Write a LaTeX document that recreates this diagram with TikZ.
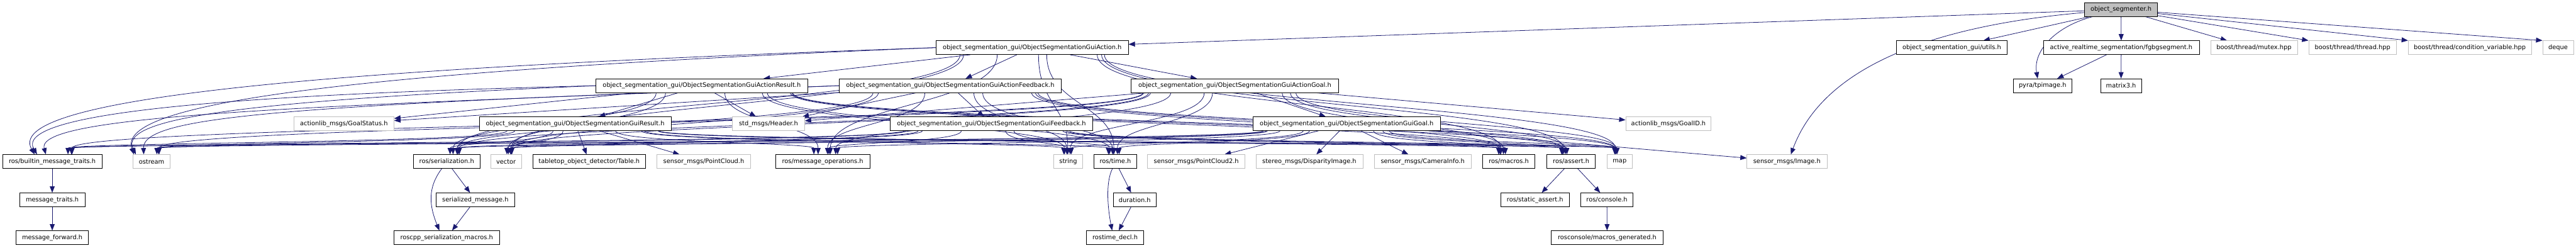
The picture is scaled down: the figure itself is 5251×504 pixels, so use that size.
\documentclass[tikz,border=0pt]{standalone}
\usepackage{fontspec}
\setmainfont{DejaVu Sans}
\usetikzlibrary{arrows.meta,calc}
\definecolor{edgecol}{RGB}{25,25,112}
\definecolor{extgray}{RGB}{191,191,191}
\pgfdeclarelayer{back}
\pgfdeclarelayer{edges}
\pgfsetlayers{back,edges,main}
\newcommand\cedge[2]{%
  \draw[dep] let \p1=(#1.center), \p2=(#2.center), \p3=(#1.south east), \p4=(#2.north east),
    \n1={0.9*(\x3-\x1)*tanh((\x2-\x1)/1000)},
    \n2={-0.4*(\x4-\x2)*tanh((\x2-\x1)/1000)},
    \n3={0.5*(\y3-\y4)}
  in (\x1+\n1,\y3) .. controls (\x1+\n1,\y3-\n3) and (\x2+\n2,\y4+\n3) .. (\x2+\n2,\y4);}
\begin{document}
\begin{tikzpicture}[x=1pt,y=-1pt,
  box/.style={draw=black, line width=1pt, fill=white, minimum height=28pt, inner sep=0pt,
    font=\fontsize{12.6}{15}\selectfont, text=black},
  ext/.style={box, draw=extgray},
  rootbox/.style={box, fill=extgray},
  dep/.style={draw=edgecol, line width=1pt, -{Triangle[length=13pt,width=10pt]}}]
\useasboundingbox (0,0) rectangle (5251,504);
\begin{pgfonlayer}{back}
\fill[white] (0,0) rectangle (5251,504);
\end{pgfonlayer}
% row 0
\node[rootbox, minimum width=149pt] (root) at (4323.5,19.5) {object\_segmenter.h};
% row 1
\node[box, minimum width=392pt] (A) at (2104,97) {object\_segmentation\_gui/ObjectSegmentationGuiAction.h};
\node[box, minimum width=225pt] (utils) at (3978.5,97) {object\_segmentation\_gui/utils.h};
\node[box, minimum width=318pt] (fgbg) at (4324,97) {active\_realtime\_segmentation/fgbgsegment.h};
\node[ext, minimum width=177pt] (mutex) at (4594.5,97) {boost/thread/mutex.hpp};
\node[ext, minimum width=179pt] (thread) at (4795.5,97) {boost/thread/thread.hpp};
\node[ext, minimum width=251pt] (condvar) at (5034.5,97) {boost/thread/condition\_variable.hpp};
\node[ext, minimum width=63pt] (deque) at (5214.5,97) {deque};
% row 2
\node[box, minimum width=431pt] (AR) at (1430.5,174.5) {object\_segmentation\_gui/ObjectSegmentationGuiActionResult.h};
\node[box, minimum width=452pt] (AF) at (1937,174.5) {object\_segmentation\_gui/ObjectSegmentationGuiActionFeedback.h};
\node[box, minimum width=422pt] (AG) at (2517,174.5) {object\_segmentation\_gui/ObjectSegmentationGuiActionGoal.h};
\node[box, minimum width=119pt] (tpimage) at (4163.5,174.5) {pyra/tpimage.h};
\node[box, minimum width=83pt] (matrix3) at (4323.5,174.5) {matrix3.h};
% row 3
\node[ext, minimum width=204pt] (goalstatus) at (701,252) {actionlib\_msgs/GoalStatus.h};
\node[box, minimum width=391pt] (R) at (1172.5,252) {object\_segmentation\_gui/ObjectSegmentationGuiResult.h};
\node[ext, minimum width=147pt] (header) at (1566.5,252) {std\_msgs/Header.h};
\node[box, minimum width=412pt] (F) at (2021,252) {object\_segmentation\_gui/ObjectSegmentationGuiFeedback.h};
\node[box, minimum width=382pt] (G) at (2745,252) {object\_segmentation\_gui/ObjectSegmentationGuiGoal.h};
\node[ext, minimum width=174pt] (goalid) at (3401,252) {actionlib\_msgs/GoalID.h};
% row 4
\node[box, minimum width=203pt] (builtin) at (106.5,329) {ros/builtin\_message\_traits.h};
\node[ext, minimum width=76pt] (ostream) at (309,329) {ostream};
\node[box, minimum width=135pt] (serial) at (910.5,329) {ros/serialization.h};
\node[ext, minimum width=63pt] (vector) at (1031.5,329) {vector};
\node[box, minimum width=230pt] (table) at (1201,329) {tabletop\_object\_detector/Table.h};
\node[ext, minimum width=191pt] (pcloud) at (1434.5,329) {sensor\_msgs/PointCloud.h};
\node[box, minimum width=192pt] (msgops) at (1677,329) {ros/message\_operations.h};
\node[ext, minimum width=59pt] (string) at (2177.5,329) {string};
\node[box, minimum width=87pt] (time) at (2273.5,329) {ros/time.h};
\node[ext, minimum width=199pt] (pcloud2) at (2438.5,329) {sensor\_msgs/PointCloud2.h};
\node[ext, minimum width=218pt] (disp) at (2669,329) {stereo\_msgs/DisparityImage.h};
\node[ext, minimum width=198pt] (caminfo) at (2900,329) {sensor\_msgs/CameraInfo.h};
\node[box, minimum width=107pt] (macros) at (3075.5,329) {ros/macros.h};
\node[box, minimum width=99pt] (assert) at (3202.5,329) {ros/assert.h};
\node[ext, minimum width=51pt] (map) at (3301.5,329) {map};
\node[ext, minimum width=163pt] (image) at (3642.5,329) {sensor\_msgs/Image.h};
% row 5
\node[box, minimum width=133pt] (msgtraits) at (106.5,407) {message\_traits.h};
\node[box, minimum width=160pt] (serialized) at (969,407) {serialized\_message.h};
\node[box, minimum width=88pt] (duration) at (2313,407) {duration.h};
\node[box, minimum width=140pt] (sassert) at (3129,407) {ros/static\_assert.h};
\node[box, minimum width=107pt] (console) at (3275.5,407) {ros/console.h};
% row 6
\node[box, minimum width=147pt] (msgfwd) at (106.5,484) {message\_forward.h};
\node[box, minimum width=215pt] (sermacros) at (910.5,484) {roscpp\_serialization\_macros.h};
\node[box, minimum width=116pt] (rtdecl) at (2273,484) {rostime\_decl.h};
\node[box, minimum width=228pt] (macrosgen) at (3276,484) {rosconsole/macros\_generated.h};

\begin{pgfonlayer}{edges}
% from the root
\draw[dep] (root) -- (A);
\draw[dep] (root) -- (utils);
\draw[dep] (root) -- (fgbg);
\draw[dep] ([xshift=-58pt]root.south) .. controls +(-70,18) and +(-10,-60) .. ([xshift=-10pt]tpimage.north);
\draw[dep] ([yshift=-6pt]root.west) .. controls +(-400,35) and +(50,-135) .. ([xshift=8pt]image.north);
\draw[dep] (root) -- ([xshift=-55pt]mutex.north);
\draw[dep] (root) -- (thread.north west);
\draw[dep] (root) -- (condvar.north west);
\draw[dep] (root) -- (deque.north west);
\draw[dep] (fgbg) -- (tpimage);
\draw[dep] (fgbg) -- (matrix3);
% between message headers
\draw[dep] (A) -- (AR);
\draw[dep] (A) -- (AF);
\draw[dep] (A) -- (AG);
\draw[dep] (AR) -- (R);
\draw[dep] (AF) -- (F);
\draw[dep] (AG) -- (G);
\draw[dep] (AR) -- (header);
\draw[dep] (AF) -- (header);
\draw[dep] (AG) -- (header);
\draw[dep] (AR) -- (goalstatus);
\draw[dep] (AF) -- (goalstatus);
\draw[dep] (AG) -- (goalid);
\draw[dep] (R) -- (table);
\draw[dep] (R) -- (pcloud);
\draw[dep] (G) -- (image);
\draw[dep] (G) -- (caminfo);
\draw[dep] (G) -- (disp);
\draw[dep] (G) -- (pcloud2);
% long arcs to the far left
\draw[dep] (A.west) .. controls (800,135) and (0,190) .. ([xshift=-36pt]builtin.north);
\draw[dep] (AR.west) .. controls (600,190) and (20,220) .. ([xshift=-31pt]builtin.north);
\draw[dep] (AF.west) .. controls (700,215) and (70,230) .. ([xshift=-13pt]builtin.north);
\draw[dep] (A.west) .. controls (600,150) and (240,220) .. ([xshift=-36pt]ostream.north);
\draw[dep] (AR.west) .. controls (500,205) and (240,240) .. ([xshift=-32pt]ostream.north);
\draw[dep] (AF.west) .. controls (600,215) and (290,235) .. ([xshift=-16pt]ostream.north);
% common includes
\foreach \s in {A,AR,AF}{%
  \foreach \t in {serial,vector,msgops,string,time,macros,assert,map}{%
    \cedge{\s}{\t}}}
\foreach \s in {AG,R,F,G}{%
  \foreach \t in {builtin,ostream,serial,vector,msgops,string,time,macros,assert,map}{%
    \cedge{\s}{\t}}}
% lower trees
\draw[dep] (builtin) -- (msgtraits);
\draw[dep] (msgtraits) -- (msgfwd);
\draw[dep] (serial) -- (serialized);
\draw[dep] (serialized) -- (sermacros);
\draw[dep] ([xshift=-10pt]serial.south) .. controls +(-30,40) and +(-20,-50) .. ([xshift=-15pt]sermacros.north);
\draw[dep] (time) -- (duration);
\draw[dep] (duration) -- (rtdecl);
\draw[dep] ([xshift=-6pt]time.south) .. controls +(-15,30) and +(-8,-40) .. ([xshift=-6pt]rtdecl.north);
\draw[dep] (assert) -- (sassert);
\draw[dep] (assert) -- (console);
\draw[dep] (console) -- (macrosgen);
\end{pgfonlayer}
\end{tikzpicture}
\end{document}
